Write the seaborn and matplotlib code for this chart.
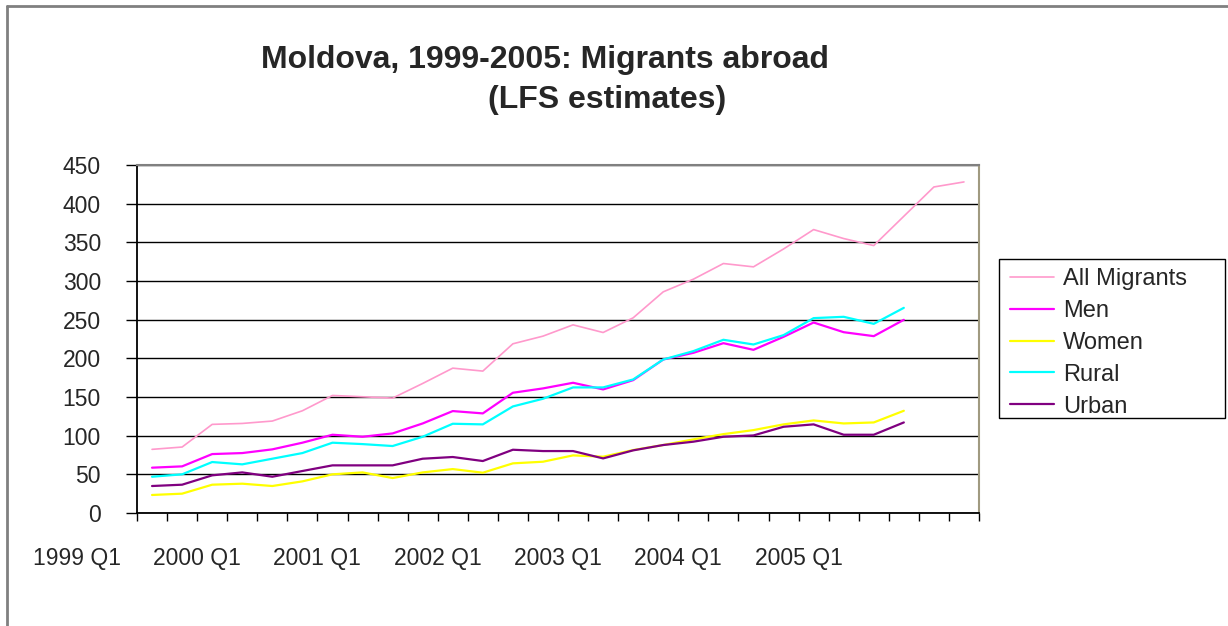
import numpy as np
import pandas as pd
import matplotlib
matplotlib.use("Agg")
import matplotlib.pyplot as plt
import matplotlib.transforms as mtransforms
from matplotlib.lines import Line2D
from matplotlib.patches import Rectangle
import seaborn as sns

# ---- data ----
years = list(range(1999, 2006))
quarters = [f"{y} Q{q}" for y in years for q in range(1, 5)]
year_labels = [f"{y} Q1" for y in years]

all_migrants = [82.3, 85.3, 114.6, 115.8, 118.9, 132.2, 152.0, 150.3, 148.6, 167.5,
                187.3, 183.5, 218.8, 228.7, 243.3, 233.4, 252.4, 286.0, 302.3, 322.6,
                318.3, 341.4, 366.5, 354.9, 345.8, 383.7, 421.6, 428.1]
men = [58.6, 60.3, 76.2, 77.5, 82.3, 90.9, 101.2, 98.6, 102.9, 115.8,
       131.8, 128.8, 155.5, 161.1, 168.4, 159.8, 171.8, 198.5, 207.1, 219.6,
       211.0, 227.8, 246.3, 233.8, 228.7, 249.8]
women = [23.3, 25.0, 36.6, 37.9, 34.9, 40.9, 50.0, 52.5, 45.2, 52.5,
         56.8, 52.1, 64.2, 66.3, 74.5, 72.8, 81.4, 87.9, 95.2, 102.0,
         107.2, 114.6, 119.7, 115.8, 117.1, 132.2]
rural = [46.9, 50.0, 65.9, 62.9, 70.2, 77.5, 90.9, 89.1, 86.6, 98.6,
         115.4, 114.6, 137.8, 147.7, 162.4, 162.4, 172.7, 198.5, 209.3, 224.0,
         217.9, 230.0, 252.0, 253.7, 244.6, 265.3]
urban = [34.9, 36.6, 48.7, 52.5, 46.9, 54.3, 61.6, 61.6, 61.6, 70.2,
         72.4, 67.2, 81.8, 80.1, 80.1, 70.6, 81.0, 87.9, 92.2, 98.6,
         100.3, 111.5, 114.6, 101.2, 101.2, 117.1]

series_names = ["All Migrants", "Men", "Women", "Rural", "Urban"]
series_values = [all_migrants, men, women, rural, urban]
colors = ["#FF99CC", "#FF00FF", "#FFFF00", "#00FFFF", "#800080"]
widths = [1.2, 1.6, 1.6, 1.6, 1.6]

rows = []
for name, vals in zip(series_names, series_values):
    for i, v in enumerate(vals):
        rows.append({"idx": i, "quarter": quarters[i], "series": name, "value": v})
df = pd.DataFrame(rows)

# ---- figure ----
sns.set_theme(style="white")
plt.rcParams["font.family"] = ["Liberation Sans", "DejaVu Sans"]

W, H = 1228, 626
fig = plt.figure(figsize=(W / 100, H / 100), dpi=100)
fig.patch.set_facecolor("white")

ax_left, ax_right, ax_top, ax_bottom = 137, 979, 165, 513
ax = fig.add_axes([ax_left / W, 1 - ax_bottom / H, (ax_right - ax_left) / W, (ax_bottom - ax_top) / H])
ax.set_facecolor("white")

for name, col, lw in zip(series_names, colors, widths):
    sub = df[df["series"] == name]
    sns.lineplot(data=sub, x="idx", y="value", color=col, linewidth=lw, ax=ax,
                 legend=False)

ax.set_xlim(-0.5, len(quarters) - 0.5)
ax.set_ylim(0, 450)
ax.set_yticks(np.arange(0, 451, 50))
ax.yaxis.grid(True, color="black", linewidth=1.0)
ax.xaxis.grid(False)
ax.set_axisbelow(True)
ax.set_xlabel("")
ax.set_ylabel("")

# category-boundary ticks
ax.set_xticks(np.arange(-0.5, len(quarters), 1.0))
ax.set_xticklabels([])
ax.tick_params(axis="x", direction="out", length=6, width=1, color="black", bottom=True)
ax.tick_params(axis="y", direction="out", length=8, width=1, color="black", left=True,
               labelsize=16.5, pad=18)

for s in ["left", "bottom"]:
    ax.spines[s].set_color("black")
    ax.spines[s].set_linewidth(1.3)
ax.spines["top"].set_color("#808080")
ax.spines["top"].set_linewidth(1.5)
ax.spines["right"].set_color("#a09a80")
ax.spines["right"].set_linewidth(1.5)

# year labels (shifted left of their category, as in the original)
label_offset = -2.5
lab_tr = mtransforms.blended_transform_factory(ax.transData, fig.transFigure)
for k, lab in enumerate(year_labels):
    ax.text(4 * k + label_offset, 1 - 565 / H, lab, transform=lab_tr,
            ha="center", va="baseline", fontsize=16.5, clip_on=False)

# title
fig.text(545 / W, 1 - 68 / H, "Moldova, 1999-2005: Migrants abroad", ha="center",
         va="baseline", fontsize=23, fontweight="bold")
fig.text(607 / W, 1 - 108 / H, "(LFS estimates)", ha="center", va="baseline",
         fontsize=23, fontweight="bold")

# legend (entries) + separate frame box
handles = [Line2D([0], [0], color=c, lw=lw) for c, lw in zip(colors, widths)]
leg = fig.legend(handles, series_names, loc="upper left",
                 bbox_to_anchor=(1010 / W, 1 - 268 / H), fontsize=17,
                 frameon=False, handlelength=1.86, handletextpad=0.38,
                 labelspacing=0.42, borderpad=0, borderaxespad=0)
fig.add_artist(Rectangle((999 / W, 1 - 418 / H), (1225 - 999) / W, (418 - 259) / H,
                         transform=fig.transFigure, fill=False, edgecolor="black",
                         linewidth=1.0))

# outer chart border (top & left visible)
fig.add_artist(Line2D([7 / W, 1.0], [1 - 6 / H, 1 - 6 / H], color="#808080", lw=2,
                      transform=fig.transFigure))
fig.add_artist(Line2D([7 / W, 7 / W], [1 - 6 / H, 0], color="#808080", lw=2,
                      transform=fig.transFigure))

fig.savefig("out.png", dpi=100, facecolor="white")
